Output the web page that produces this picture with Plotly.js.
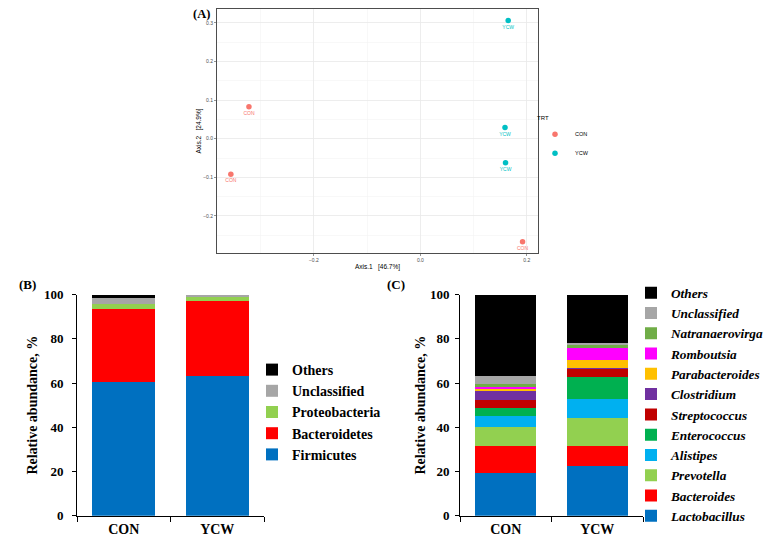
<!DOCTYPE html>
<html>
<head>
<meta charset="utf-8">
<script src="https://cdn.plot.ly/plotly-3.0.1.min.js"></script>
<style>html,body{margin:0;padding:0;background:#fff;}#chart{width:764px;height:537px;}</style>
</head>
<body>
<div id="chart"></div>
<script>
// ---------- Panel A: PCoA ----------
const pcoaGroups = ['CON', 'YCW'];
const conAxis1 = [-0.322, -0.356, 0.192];
const conAxis2 = [0.083, -0.092, -0.267];
const ycwAxis1 = [0.165, 0.159, 0.160];
const ycwAxis2 = [0.306, 0.029, -0.062];
const axis1Title = 'Axis.1   [46.7%]';
const axis2Title = 'Axis.2   [24.9%]';

// ---------- Panel B: phylum ----------
const treatments = ['CON', 'YCW'];
const phylumNames = ['Firmicutes', 'Bacteroidetes', 'Proteobacteria', 'Unclassified', 'Others'];
const phylumCON = [60.5, 32.9, 2.4, 2.6, 1.6];
const phylumYCW = [63.4, 33.9, 1.5, 1.0, 0.2];

// ---------- Panel C: genus ----------
const genusNames = ['Lactobacillus', 'Bacteroides', 'Prevotella', 'Alistipes', 'Enterococcus',
  'Streptococcus', 'Clostridium', 'Parabacteroides', 'Romboutsia', 'Natranaerovirga',
  'Unclassified', 'Others'];
const genusCON = [19.2, 12.5, 8.4, 5.0, 3.6, 3.5, 4.1, 1.0, 1.0, 1.2, 3.8, 36.7];
const genusYCW = [22.6, 9.1, 12.5, 8.6, 9.8, 3.7, 0.7, 3.5, 5.4, 1.2, 1.2, 21.7];

// ---------- styles ----------
const pcoaColors = ['#F8766D', '#00BFC4'];
const phylumColors = ['#0070C0', '#FF0000', '#92D050', '#A6A6A6', '#000000'];
const genusColors = ['#0070C0', '#FF0000', '#92D050', '#00B0F0', '#00B050', '#C00000',
  '#7030A0', '#FFC000', '#FF00FF', '#70AD47', '#A6A6A6', '#000000'];

const W = 764, H = 537;
const px = v => v / W;
const py = v => 1 - v / H;
const serif = 'Liberation Serif, Times New Roman, serif';
const sans = 'Liberation Sans, Arial, sans-serif';

const traces = [];
const pcoaX = [conAxis1, ycwAxis1];
const pcoaY = [conAxis2, ycwAxis2];
pcoaGroups.forEach((g, i) => {
  traces.push({
    type: 'scatter', mode: 'markers+text', name: g,
    x: pcoaX[i], y: pcoaY[i],
    text: pcoaX[i].map(() => g), textposition: 'bottom center',
    textfont: {family: sans, size: 5, color: pcoaColors[i]},
    marker: {color: pcoaColors[i], size: 5.5},
    xaxis: 'x', yaxis: 'y', legend: 'legend', cliponaxis: false,
    hoverinfo: 'x+y+name'
  });
});

phylumNames.forEach((n, i) => {
  traces.push({
    type: 'bar', name: n, x: treatments, y: [phylumCON[i], phylumYCW[i]],
    marker: {color: phylumColors[i], line: {width: 0}},
    xaxis: 'x2', yaxis: 'y2', legend: 'legend2'
  });
});

genusNames.forEach((n, i) => {
  traces.push({
    type: 'bar', name: n, x: treatments, y: [genusCON[i], genusYCW[i]],
    marker: {color: genusColors[i], line: {width: 0}},
    xaxis: 'x3', yaxis: 'y3', legend: 'legend3'
  });
});

const pcoaAxisCommon = {
  showline: true, mirror: true, linecolor: '#4d4d4d', linewidth: 1,
  ticks: 'outside', ticklen: 2, tickcolor: '#4d4d4d', tickwidth: 0.6,
  tickfont: {family: sans, size: 5, color: '#4d4d4d'},
  showgrid: true, gridcolor: '#e8e8e8', gridwidth: 0.8, zeroline: false,
  tickformat: '.1f'
};

const barY = {
  range: [0, 100], dtick: 20, tick0: 0, showline: true, linecolor: '#000', linewidth: 1,
  ticks: 'outside', ticklen: 4, tickcolor: '#000', showgrid: false, zeroline: false,
  tickfont: {family: serif, size: 13, color: '#000', weight: 'bold'}
};
const barTitleFont = {family: serif, size: 14, color: '#000', weight: 'bold'};
const barX = {
  type: 'category', showline: true, linecolor: '#000', linewidth: 1,
  ticks: 'outside', ticklen: 5, tickcolor: '#000', tickson: 'boundaries',
  showgrid: false, zeroline: false,
  tickfont: {family: serif, size: 14, color: '#000', weight: 'bold'}
};

const layout = {
  width: W, height: H,
  margin: {l: 0, r: 0, t: 0, b: 0, autoexpand: false},
  paper_bgcolor: '#fff', plot_bgcolor: '#fff',
  barmode: 'stack', bargap: 0.33,
  xaxis: Object.assign({}, pcoaAxisCommon, {
    domain: [px(217), px(538)], anchor: 'y', range: [-0.382, 0.221],
    tick0: 0, dtick: 0.2,
    minor: {dtick: 0.1, showgrid: true, gridcolor: '#f2f2f2', gridwidth: 0.5},
    title: {text: axis1Title, font: {family: sans, size: 6.5, color: '#000'}, standoff: 2}
  }),
  yaxis: Object.assign({}, pcoaAxisCommon, {
    domain: [py(253), py(9)], anchor: 'x', range: [-0.296, 0.336],
    tick0: 0, dtick: 0.1,
    minor: {dtick: 0.05, showgrid: true, gridcolor: '#f2f2f2', gridwidth: 0.5},
    title: {text: axis2Title, font: {family: sans, size: 6.5, color: '#000'}, standoff: 0}
  }),
  xaxis2: Object.assign({}, barX, {domain: [px(77), px(264)], anchor: 'y2'}),
  yaxis2: Object.assign({}, barY, {domain: [py(515.7), py(294.7)], anchor: 'x2',
    ticklabelstandoff: 6,
    title: {text: 'Relative abundance, %', font: barTitleFont, standoff: 2}}),
  xaxis3: Object.assign({}, barX, {domain: [px(460), px(643)], anchor: 'y3'}),
  yaxis3: Object.assign({}, barY, {domain: [py(515.7), py(294.7)], anchor: 'x3',
    ticklabelstandoff: 3,
    title: {text: 'Relative abundance, %', font: barTitleFont, standoff: 0}}),
  legend: {
    x: px(535), xanchor: 'left', y: py(112), yanchor: 'top',
    title: {text: 'TRT', font: {family: sans, size: 6, color: '#000'}},
    font: {family: sans, size: 5.5, color: '#000'}, bgcolor: 'rgba(0,0,0,0)'
  },
  legend2: {
    x: px(252), xanchor: 'left', y: py(354), yanchor: 'top',
    traceorder: 'reversed', font: {family: serif, size: 14, color: '#000', weight: 'bold'},
    bgcolor: 'rgba(0,0,0,0)'
  },
  legend3: {
    x: px(631), xanchor: 'left', y: py(277.5), yanchor: 'top',
    traceorder: 'reversed',
    font: {family: serif, size: 13.3, color: '#000', weight: 'bold', style: 'italic'},
    bgcolor: 'rgba(0,0,0,0)'
  },
  annotations: [
    {text: '(A)', x: px(192), y: py(6), xref: 'paper', yref: 'paper', showarrow: false,
     borderpad: 0, font: {family: serif, size: 12.5, color: '#000', weight: 'bold'}},
    {text: '(B)', x: px(17), y: py(284), xref: 'paper', yref: 'paper', showarrow: false,
     font: {family: serif, size: 13, color: '#000', weight: 'bold'}},
    {text: '(C)', x: px(396), y: py(284), xref: 'paper', yref: 'paper', showarrow: false,
     font: {family: serif, size: 13, color: '#000', weight: 'bold'}}
  ],
  showlegend: true
};

Plotly.newPlot('chart', traces, layout, {displayModeBar: false, staticPlot: true});
</script>
</body>
</html>
